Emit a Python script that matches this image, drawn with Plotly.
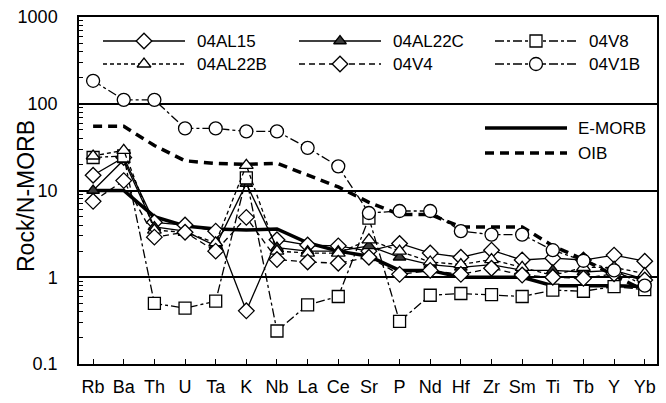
import plotly.graph_objects as go

elements = ["Rb", "Ba", "Th", "U", "Ta", "K", "Nb", "La", "Ce", "Sr", "P", "Nd", "Hf", "Zr", "Sm", "Ti", "Tb", "Y", "Yb"]

emorb = [10, 10, 5.0, 3.9, 3.6, 3.5, 3.6, 2.5, 2.0, 1.75, 1.2, 1.2, 1.0, 1.0, 1.0, 0.8, 0.8, 0.8, 0.78]
oib = [55, 55, 33, 22, 20.5, 20, 20.6, 15, 11, 7.3, 5.3, 5.3, 3.8, 3.8, 3.8, 2.3, 1.6, 1.05, 0.7]

s_04AL15 = [15, 24, 4.3, 4.0, 3.4, 0.41, 2.7, 2.35, 2.3, 2.0, 2.45, 1.9, 1.7, 2.05, 1.58, 1.66, 1.58, 1.8, 1.53]
s_04AL22C = [10, 22.5, 3.8, 3.4, 2.3, 12, 2.2, 2.0, 2.0, 2.3, 1.7, 1.4, 1.3, 1.4, 1.2, 1.2, 1.15, 1.2, 0.95]
s_04V8 = [24, 25, 0.50, 0.44, 0.53, 14, 0.24, 0.48, 0.60, 4.8, 0.31, 0.62, 0.65, 0.63, 0.60, 0.71, 0.69, 0.78, 0.72]
s_04AL22B = [25, 29, 3.5, 3.3, 2.5, 19.5, 2.0, 1.9, 1.9, 2.7, 2.0, 1.5, 1.4, 1.6, 1.3, 1.05, 1.3, 1.3, 1.1]
s_04V4 = [7.5, 13, 2.9, 3.3, 2.0, 4.9, 1.6, 1.5, 1.45, 1.7, 1.08, 1.2, 1.08, 1.27, 1.06, 1.0, 0.97, 1.1, 0.93]
s_04V1B = [184, 111, 111, 52, 52, 48, 48, 31, 19, 5.5, 5.8, 5.8, 3.4, 3.1, 3.1, 2.05, 1.55, 1.2, 0.8]

x = list(range(len(elements)))
FONT = "Liberation Sans, Arial, sans-serif"

series = [
    ("04AL15", s_04AL15, "solid", "diamond", "white", 12),
    ("04AL22C", s_04AL22C, "solid", "triangle-up", "#3a3a3a", 11),
    ("04V8", s_04V8, "dashdot", "square", "white", 12),
    ("04AL22B", s_04AL22B, "4px,3px", "triangle-up", "white", 12),
    ("04V4", s_04V4, "6px,4px", "diamond", "white", 12),
    ("04V1B", s_04V1B, "dashdot", "circle", "white", 13),
]

fig = go.Figure()
# reference curves
fig.add_trace(go.Scatter(x=x, y=emorb, mode="lines", line=dict(color="black", width=3.5),
                         showlegend=False))
fig.add_trace(go.Scatter(x=x, y=oib, mode="lines", line=dict(color="black", width=3.5, dash="9px,6px"),
                         showlegend=False))

for name, vals, dash, sym, fill, size in series:
    fig.add_trace(go.Scatter(
        x=x, y=vals, mode="lines+markers", name=name,
        line=dict(color="black", width=1.3, dash=dash),
        marker=dict(symbol=sym, size=size, color=fill, line=dict(color="black", width=1.3)),
        showlegend=False))

# custom legend drawn on an overlay axis pair spanning the plot area
L, R, T, B = 79, 657, 17, 364
def px(v):
    return (v - L) / (R - L)
def py(v):
    return (B - v) / (B - T)

cols = [103, 299, 495]
rows = [41, 64]
for i, (name, vals, dash, sym, fill, size) in enumerate(series):
    c = cols[i % 3]
    r = rows[i // 3]
    fig.add_trace(go.Scatter(x=[px(c), px(c + 82)], y=[py(r), py(r)], mode="lines",
                             line=dict(color="black", width=1.3, dash=dash),
                             xaxis="x2", yaxis="y2", showlegend=False, hoverinfo="skip"))
    fig.add_trace(go.Scatter(x=[px(c + 41)], y=[py(r)], mode="markers",
                             marker=dict(symbol=sym, size=size, color=fill,
                                         line=dict(color="black", width=1.3)),
                             xaxis="x2", yaxis="y2", showlegend=False, hoverinfo="skip"))
    fig.add_annotation(x=px(c + 92), y=py(r), xref="x2", yref="y2", text=name, showarrow=False,
                       xanchor="left", yanchor="middle", font=dict(family=FONT, size=17, color="black"))

for name, dash, r in [("E-MORB", "solid", 128), ("OIB", "9px,6px", 153)]:
    fig.add_trace(go.Scatter(x=[px(485), px(567)], y=[py(r), py(r)], mode="lines",
                             line=dict(color="black", width=3.5, dash=dash),
                             xaxis="x2", yaxis="y2", showlegend=False, hoverinfo="skip"))
    fig.add_annotation(x=px(576), y=py(r), xref="x2", yref="y2", text=name, showarrow=False,
                       xanchor="left", yanchor="middle", font=dict(family=FONT, size=17, color="black"))

# y-axis title
fig.add_annotation(x=px(26), y=py(196), xref="paper", yref="paper", text="Rock/N-MORB",
                   textangle=-90, showarrow=False, xanchor="center", yanchor="middle",
                   font=dict(family=FONT, size=23, color="black"))

fig.update_layout(
    width=666, height=403,
    margin=dict(l=L, r=666 - R, t=T, b=403 - B, autoexpand=False),
    paper_bgcolor="white", plot_bgcolor="white",
    font=dict(family=FONT, size=16, color="black"),
    showlegend=False,
    xaxis=dict(range=[-0.46, 18.4], tickmode="array", tickvals=x, ticktext=elements,
               ticks="inside", ticklen=5, tickcolor="black", showgrid=False, zeroline=False,
               showline=True, linecolor="black", linewidth=1.5, mirror=True, automargin=False,
               tickfont=dict(size=18), ticklabelstandoff=6),
    yaxis=dict(type="log", range=[-1, 3], tickvals=[0.1, 1, 10, 100, 1000],
               ticktext=["0.1", "1", "10", "100", "1000"],
               ticks="inside", ticklen=6, tickcolor="black",
               showgrid=True, gridcolor="black", gridwidth=1.5, zeroline=False,
               showline=True, linecolor="black", linewidth=1.5, mirror=True, automargin=False,
               minor=dict(ticks="inside", ticklen=4, tickcolor="black", dtick="D1", showgrid=False),
               tickfont=dict(size=18), ticklabelstandoff=16),
    xaxis2=dict(overlaying="x", range=[0, 1], visible=False),
    yaxis2=dict(overlaying="y", range=[0, 1], visible=False),
)

fig.write_html("out.html", config={"displayModeBar": False},
               post_script="document.body.style.margin='0';document.body.style.overflow='hidden';")
